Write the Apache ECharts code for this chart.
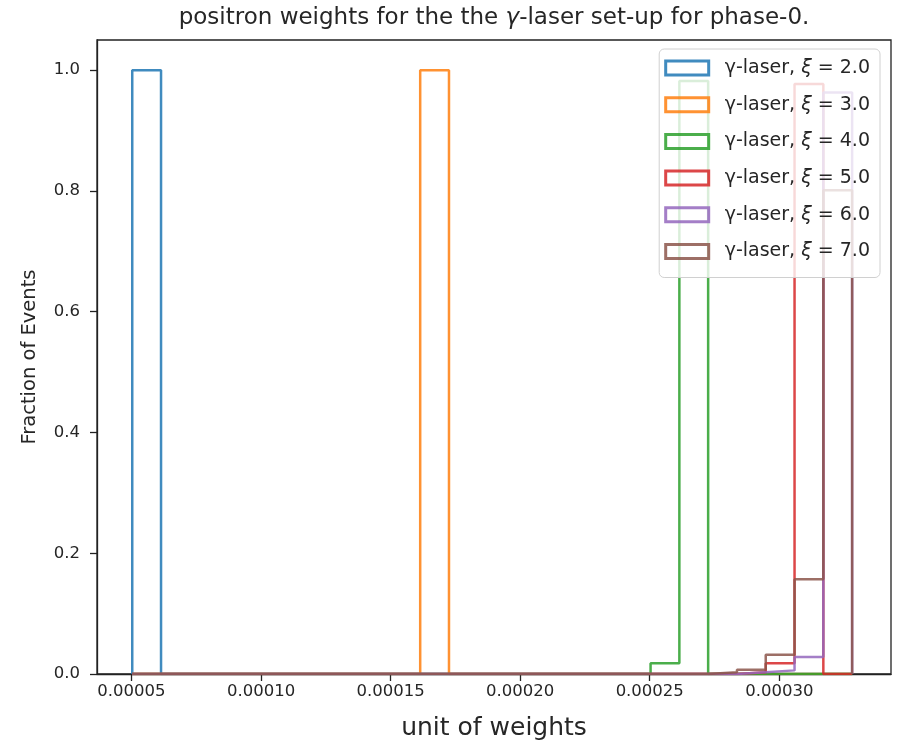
<!DOCTYPE html>
<html>
<head>
<meta charset="utf-8">
<script src="https://cdn.jsdelivr.net/npm/echarts@6/dist/echarts.min.js"></script>
<style>html,body{margin:0;padding:0;background:#fff;}#c{width:901px;height:743px;}</style>
</head>
<body>
<div id="c"></div>
<script>
// bin edges (shared by all histograms), 25 bins
var binEdges = [0.0000503, 0.00006141, 0.00007252, 0.00008364, 0.00009475, 0.00010586,
  0.00011697, 0.00012808, 0.00013920, 0.00015031, 0.00016142, 0.00017253, 0.00018364,
  0.00019476, 0.00020587, 0.00021698, 0.00022809, 0.00023920, 0.00025032, 0.00026143,
  0.00027254, 0.00028365, 0.00029476, 0.00030588, 0.00031699, 0.00032810];

var seriesNames = ['γ-laser, ξ = 2.0', 'γ-laser, ξ = 3.0', 'γ-laser, ξ = 4.0',
                   'γ-laser, ξ = 5.0', 'γ-laser, ξ = 6.0', 'γ-laser, ξ = 7.0'];

var xi2 = [1.0, 0, 0, 0, 0, 0, 0, 0, 0, 0, 0, 0, 0, 0, 0, 0, 0, 0, 0, 0, 0, 0, 0, 0, 0];
var xi3 = [0, 0, 0, 0, 0, 0, 0, 0, 0, 0, 1.0, 0, 0, 0, 0, 0, 0, 0, 0, 0, 0, 0, 0, 0, 0];
var xi4 = [0, 0, 0, 0, 0, 0, 0, 0, 0, 0, 0, 0, 0, 0, 0, 0, 0, 0, 0.018, 0.982, 0, 0, 0, 0, 0];
var xi5 = [0, 0, 0, 0, 0, 0, 0, 0, 0, 0, 0, 0, 0, 0, 0, 0, 0, 0, 0, 0, 0, 0.003, 0.018, 0.977, 0];
var xi6 = [0, 0, 0, 0, 0, 0, 0, 0, 0, 0, 0, 0, 0, 0, 0, 0, 0, 0, 0, 0, 0, 0.003, 0.006, 0.028, 0.963];
var xi7 = [0, 0, 0, 0, 0, 0, 0, 0, 0, 0, 0, 0, 0, 0, 0, 0, 0, 0, 0, 0, 0.003, 0.007, 0.032, 0.157, 0.801];

var xTicks = [0.00005, 0.00010, 0.00015, 0.00020, 0.00025, 0.00030];
var yTicks = [0.0, 0.2, 0.4, 0.6, 0.8, 1.0];

var colors = ['#1f77b4', '#ff7f0e', '#2ca02c', '#d62728', '#9467bd', '#8c564b'];
var allValues = [xi2, xi3, xi4, xi5, xi6, xi7];

function stepOutline(vals) {
  var pts = [[binEdges[0], 0]];
  for (var i = 0; i < vals.length; i++) {
    pts.push([binEdges[i], vals[i]]);
    pts.push([binEdges[i + 1], vals[i]]);
  }
  pts.push([binEdges[binEdges.length - 1], 0]);
  return pts;
}

var FONT = 'DejaVu Sans';
var TXT = '#262626';
var chart = echarts.init(document.getElementById('c'), null, {renderer: 'canvas'});

var series = allValues.map(function (v, i) {
  return {
    name: seriesNames[i],
    type: 'line',
    data: stepOutline(v),
    showSymbol: false,
    symbol: 'none',
    animation: false,
    lineStyle: {color: colors[i], width: 2.5, opacity: 0.85},
    itemStyle: {color: colors[i]},
    z: 2
  };
});

chart.setOption({
  animation: false,
  grid: {left: 97, right: 10, top: 40, bottom: 69, show: true, borderColor: '#222', borderWidth: 1.3,
         backgroundColor: 'transparent', containLabel: false, outerBoundsMode: 'none'},
  graphic: [{
    type: 'text', x: 494, y: 18,
    style: {
      text: '{a|positron weights for the the }{i|γ}{a|-laser set-up for phase-0.}',
      align: 'center', verticalAlign: 'middle',
      rich: {
        a: {fontFamily: FONT, fontSize: 23, fill: TXT},
        i: {fontFamily: FONT, fontSize: 23, fontStyle: 'italic', fill: TXT}
      }
    }
  }],
  legend: {
    orient: 'vertical',
    right: 21, top: 49,
    icon: 'rect',
    itemWidth: 43, itemHeight: 14, itemGap: 16.7,
    backgroundColor: 'rgba(255,255,255,0.8)',
    borderColor: '#d0d0d0', borderWidth: 1, borderRadius: 5,
    padding: [9, 10, 16, 5],
    z: 10,
    textStyle: {
      fontFamily: FONT, fontSize: 19, color: TXT, lineHeight: 20, padding: [0, 0, 0, 11],
      rich: {
        i: {fontFamily: FONT, fontSize: 19, fontStyle: 'italic', color: TXT, lineHeight: 20}
      }
    },
    formatter: function (name) { return name.replace('ξ', '{i|ξ}'); },
    data: seriesNames.map(function (n, i) {
      return {name: n, itemStyle: {color: 'rgba(255,255,255,0)', borderColor: colors[i], borderWidth: 3, opacity: 0.85}};
    })
  },
  xAxis: {
    type: 'value',
    min: 0.0000367, max: 0.0003431,
    name: 'unit of weights', nameLocation: 'middle', nameGap: 42,
    nameTextStyle: {fontFamily: FONT, fontSize: 25, color: TXT},
    axisLine: {show: true, onZero: false, lineStyle: {color: '#222', width: 1.3}},
    axisTick: {show: true, length: 7, lineStyle: {color: '#222', width: 1.3}, customValues: xTicks},
    axisLabel: {fontFamily: FONT, fontSize: 16.5, color: TXT, margin: 9, customValues: xTicks,
      formatter: function (v) { return v.toFixed(5); }},
    splitLine: {show: false}
  },
  yAxis: {
    type: 'value',
    min: 0, max: 1.05,
    name: 'Fraction of Events', nameLocation: 'middle', nameGap: 57,
    nameTextStyle: {fontFamily: FONT, fontSize: 19.5, color: TXT},
    axisLine: {show: true, onZero: false, lineStyle: {color: '#222', width: 1.3}},
    axisTick: {show: true, length: 7, lineStyle: {color: '#222', width: 1.3}, customValues: yTicks},
    axisLabel: {fontFamily: FONT, fontSize: 16.5, color: TXT, margin: 17, customValues: yTicks,
      formatter: function (v) { return v.toFixed(1); }},
    splitLine: {show: false}
  },
  series: series
});
</script>
</body>
</html>
